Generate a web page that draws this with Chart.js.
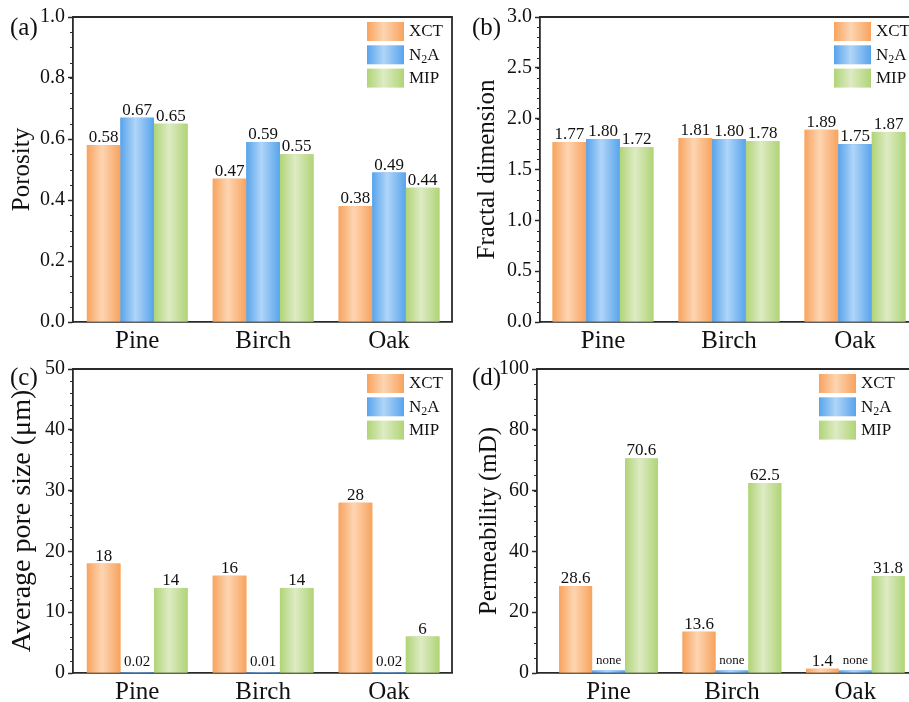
<!DOCTYPE html>
<html>
<head>
<meta charset="utf-8">
<script src="https://cdn.jsdelivr.net/npm/chart.js@4.4.1/dist/chart.umd.min.js"></script>
<style>
  html, body { margin: 0; padding: 0; background: #fff; width: 909px; height: 702px; overflow: hidden; }
  canvas { position: absolute; }
  .tag { position: absolute; font: 25px/30px 'Liberation Serif', 'Times New Roman', serif; color: #111; }
</style>
</head>
<body>
<canvas id="panelA" width="460" height="350" style="left:0;top:0"></canvas>
<canvas id="panelB" width="475" height="350" style="left:450px;top:0"></canvas>
<canvas id="panelC" width="460" height="352" style="left:0;top:350px"></canvas>
<canvas id="panelD" width="475" height="352" style="left:450px;top:350px"></canvas>
<div class="tag" style="left:10px;top:12px">(a)</div>
<div class="tag" style="left:472px;top:12px">(b)</div>
<div class="tag" style="left:10px;top:362px">(c)</div>
<div class="tag" style="left:472px;top:362px">(d)</div>
<script>
// wood samples on the x axis
const categories = ['Pine', 'Birch', 'Oak'];
const seriesNames = ['XCT', 'N2A', 'MIP'];

// (a) porosity
const porosityXCT = [0.58, 0.47, 0.38];
const porosityN2A = [0.67, 0.59, 0.49];
const porosityMIP = [0.65, 0.55, 0.44];
const porosityTicks = [0, 0.2, 0.4, 0.6, 0.8, 1.0];

// (b) fractal dimension
const fractalXCT = [1.77, 1.81, 1.89];
const fractalN2A = [1.80, 1.80, 1.75];
const fractalMIP = [1.72, 1.78, 1.87];
const fractalTicks = [0, 0.5, 1.0, 1.5, 2.0, 2.5, 3.0];

// (c) average pore size, um
const poreXCT = [18, 16, 28];
const poreN2A = [0.02, 0.01, 0.02];
const poreMIP = [14, 14, 6];
const poreN2ALabels = ['0.02', '0.01', '0.02'];
const poreTicks = [0, 10, 20, 30, 40, 50];

// (d) permeability, mD  (N2A has no value: thin sliver labelled "none")
const permXCT = [28.6, 13.6, 1.4];
const permN2A = [0.8, 0.8, 0.8];
const permMIP = [70.6, 62.5, 31.8];
const permN2ALabels = ['none', 'none', 'none'];
const permTicks = [0, 20, 40, 60, 80, 100];

const FONT = "'Liberation Serif', 'Times New Roman', serif";
const INK = '#111';
const AXIS = '#2a2a2a';

const COLORS = {
  XCT: { edge: '#F8A35E', light: '#FDD5B2' },
  N2A: { edge: '#58A4EC', light: '#B0D5F8' },
  MIP: { edge: '#B0D477', light: '#DEEBC4' },
};

function barGradient(ctx, x0, x1, c) {
  const g = ctx.createLinearGradient(x0, 0, x1, 0);
  g.addColorStop(0, c.edge);
  g.addColorStop(0.45, c.light);
  g.addColorStop(1, c.edge);
  return g;
}

// N2A -> N with subscript 2
function drawSubscripted(ctx, text, x, y) {
  ctx.textBaseline = 'middle';
  ctx.textAlign = 'left';
  ctx.fillStyle = INK;
  for (const ch of text) {
    const sub = /\d/.test(ch);
    ctx.font = `${sub ? 12 : 17}px ${FONT}`;
    ctx.fillText(ch, x, sub ? y + 5 : y);
    x += ctx.measureText(ch).width;
  }
}

// repaint each bar with the light-centre gradient
const barShading = {
  id: 'barShading',
  afterDatasetsDraw(chart) {
    const ctx = chart.ctx;
    chart.data.datasets.forEach((ds, di) => {
      const c = COLORS[ds.label];
      chart.getDatasetMeta(di).data.forEach(bar => {
        const { x, y, base, width } = bar.getProps(['x', 'y', 'base', 'width'], true);
        const x0 = x - width / 2;
        ctx.fillStyle = barGradient(ctx, x0, x0 + width, c);
        ctx.fillRect(x0, Math.min(y, base), width, Math.abs(base - y));
      });
    });
  }
};

const valueLabels = {
  id: 'valueLabels',
  afterDatasetsDraw(chart) {
    const ctx = chart.ctx;
    ctx.save();
    ctx.textAlign = 'center';
    ctx.textBaseline = 'alphabetic';
    ctx.fillStyle = INK;
    chart.data.datasets.forEach((ds, di) => {
      ctx.font = `${ds.labelSize}px ${FONT}`;
      chart.getDatasetMeta(di).data.forEach((bar, i) => {
        ctx.fillText(ds.valueLabels[i], bar.x, bar.y - ds.labelGap);
      });
    });
    ctx.restore();
  }
};

// top/right frame and the small minor ticks
const frame = {
  id: 'frame',
  afterDraw(chart, args, opts) {
    const { ctx, chartArea: a, scales: { y } } = chart;
    ctx.save();
    ctx.strokeStyle = AXIS;
    ctx.lineWidth = 1.8;
    ctx.beginPath();
    ctx.moveTo(a.left, a.top);
    ctx.lineTo(a.right, a.top);
    ctx.lineTo(a.right, a.bottom);
    ctx.stroke();
    ctx.lineWidth = 1;
    for (let v = y.min; v <= y.max + 1e-9; v += opts.minorStep) {
      const py = Math.round(y.getPixelForValue(v)) + 0.5;
      ctx.beginPath();
      ctx.moveTo(a.left - 3, py);
      ctx.lineTo(a.left, py);
      ctx.stroke();
    }
    ctx.restore();
  }
};

const seriesLegend = {
  id: 'seriesLegend',
  afterDraw(chart, args, opts) {
    const { ctx, chartArea: a } = chart;
    ctx.save();
    chart.data.datasets.forEach((ds, i) => {
      const bx = a.left + opts.x;
      const by = a.top + 5 + i * 23.3;
      ctx.fillStyle = barGradient(ctx, bx, bx + 37, COLORS[ds.label]);
      ctx.fillRect(bx, by, 37, 19);
      drawSubscripted(ctx, ds.label, bx + 42, by + 10);
    });
    ctx.restore();
  }
};

function series(name, values, labels, labelSize, labelGap) {
  return {
    label: name,
    data: values.map((v, k) => ({ x: k + 1, y: v })),
    valueLabels: labels,
    labelSize: labelSize || 17,
    labelGap: labelGap || 3,
    backgroundColor: COLORS[name].edge,
    borderWidth: 0,
    categoryPercentage: 0.8,
    barPercentage: 1.0,
  };
}

function makePanel(id, cfg) {
  const ticks = cfg.ticks;
  return new Chart(document.getElementById(id), {
    type: 'bar',
    data: { datasets: cfg.datasets },
    options: {
      responsive: false,
      animation: false,
      layout: { padding: { top: cfg.padTop, right: cfg.padRight, left: 0, bottom: 0 } },
      plugins: {
        legend: { display: false },
        tooltip: { enabled: false },
        frame: { minorStep: cfg.minorStep },
        seriesLegend: { x: cfg.legendX },
      },
      scales: {
        x: {
          type: 'linear',
          offset: false,
          min: cfg.xMin,
          max: cfg.xMax,
          afterFit: s => { s.height = cfg.xAxisH; },
          afterBuildTicks: s => { s.ticks = categories.map((c, i) => ({ value: i + 1 })); },
          ticks: {
            callback: v => categories[v - 1] || '',
            font: { family: FONT, size: 25 },
            color: INK,
            padding: 4,
            maxRotation: 0,
            autoSkip: false,
          },
          grid: { display: false, drawTicks: false, offset: false },
          border: { color: AXIS, width: 1.8 },
        },
        y: {
          min: ticks[0],
          max: ticks[ticks.length - 1],
          afterBuildTicks: s => { s.ticks = ticks.map(v => ({ value: v })); },
          afterFit: s => { s.width = cfg.yAxisW; },
          ticks: {
            callback: v => v.toFixed(cfg.decimals),
            font: { family: FONT, size: 20 },
            color: INK,
            padding: 3,
          },
          grid: { drawOnChartArea: false, tickLength: 5, tickColor: AXIS, tickWidth: 1.5 },
          border: { color: AXIS, width: 1.8 },
          title: {
            display: true,
            text: cfg.yTitle,
            font: { family: FONT, size: cfg.titleSize || 25 },
            color: INK,
            padding: { top: cfg.titlePad, bottom: 0 },
          },
        },
      },
    },
    plugins: [barShading, valueLabels, frame, seriesLegend],
  });
}

const fix = d => v => v.toFixed(d);

makePanel('panelA', {
  datasets: [
    series('XCT', porosityXCT, porosityXCT.map(fix(2))),
    series('N2A', porosityN2A, porosityN2A.map(fix(2))),
    series('MIP', porosityMIP, porosityMIP.map(fix(2))),
  ],
  ticks: porosityTicks, decimals: 1, minorStep: 0.05,
  yTitle: 'Porosity', titlePad: 7,
  xMin: 0.49, xMax: 3.5,
  padTop: 17, padRight: 8, yAxisW: 73, xAxisH: 28, legendX: 294,
});

makePanel('panelB', {
  datasets: [
    series('XCT', fractalXCT, fractalXCT.map(fix(2))),
    series('N2A', fractalN2A, fractalN2A.map(fix(2))),
    series('MIP', fractalMIP, fractalMIP.map(fix(2))),
  ],
  ticks: fractalTicks, decimals: 1, minorStep: 0.1,
  yTitle: 'Fractal dimension', titlePad: 22,
  xMin: 0.5, xMax: 3.5,
  padTop: 17, padRight: 7, yAxisW: 90, xAxisH: 28, legendX: 294,
});

makePanel('panelC', {
  datasets: [
    series('XCT', poreXCT, poreXCT.map(String)),
    series('N2A', poreN2A, poreN2ALabels, 15, 7),
    series('MIP', poreMIP, poreMIP.map(String)),
  ],
  ticks: poreTicks, decimals: 0, minorStep: 2,
  yTitle: 'Average pore size (\u03bcm)', titlePad: 6, titleSize: 28,
  xMin: 0.49, xMax: 3.5,
  padTop: 19, padRight: 8, yAxisW: 73, xAxisH: 29, legendX: 294,
});

makePanel('panelD', {
  datasets: [
    series('XCT', permXCT, permXCT.map(fix(1))),
    series('N2A', permN2A, permN2ALabels, 13, 7),
    series('MIP', permMIP, permMIP.map(fix(1))),
  ],
  ticks: permTicks, decimals: 0, minorStep: 5,
  yTitle: 'Permeability (mD)', titlePad: 24,
  xMin: 0.42, xMax: 3.5,
  padTop: 19, padRight: 8, yAxisW: 87, xAxisH: 29, legendX: 282,
});
</script>
</body>
</html>
